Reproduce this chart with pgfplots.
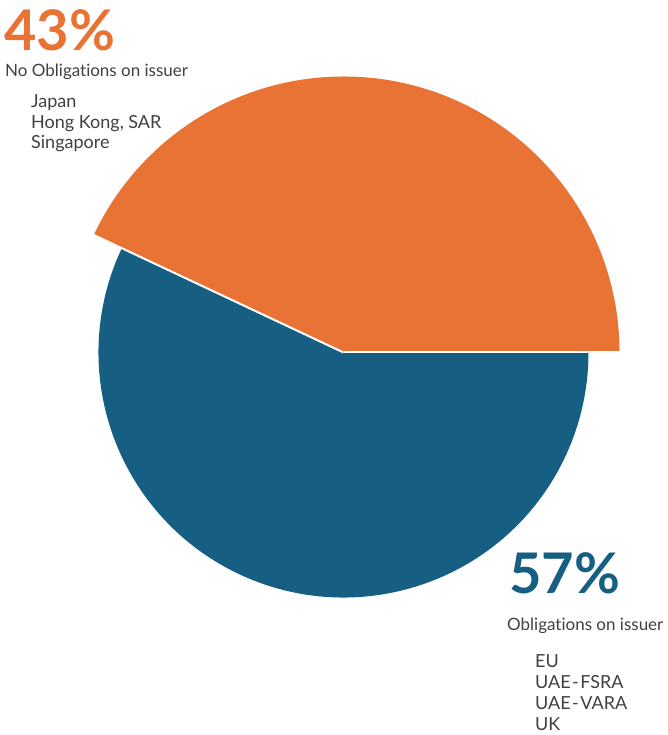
\documentclass[border=0pt]{standalone}
\usepackage{pgfplots}
\usepackage{pgfplotstable}
\usepackage{fontspec}
\setmainfont{Lato}[Ligatures=NoCommon]
\pgfplotsset{compat=1.18}

\definecolor{orng}{HTML}{E97334}
\definecolor{blu}{HTML}{175F82}
\definecolor{txt}{HTML}{404040}

% share (percent) and radius (pt) of each slice
\pgfplotstableread{
share radius
43 276
57 245
}\slices

\tikzset{
  lbl/.style={anchor=base west, inner sep=0, text=txt, font=\fontsize{17}{18}\selectfont},
  itm/.style={lbl, font=\fontsize{18}{20}\selectfont},
  big/.style={anchor=base west, inner sep=0, font=\fontsize{56}{60}\selectfont\bfseries},
}
\newcommand\hy{\kern1.5pt-\kern1.5pt}

\begin{document}
\begin{tikzpicture}
\pgfplotstablegetelem{0}{share}\of\slices \let\sa\pgfplotsretval
\pgfplotstablegetelem{0}{radius}\of\slices \let\ra\pgfplotsretval
\pgfplotstablegetelem{1}{share}\of\slices \let\sb\pgfplotsretval
\pgfplotstablegetelem{1}{radius}\of\slices \let\rb\pgfplotsretval
\pgfmathsetmacro\angA{3.6*\sa}
\pgfmathsetmacro\angB{\angA+3.6*\sb}
\begin{axis}[
    x=1pt, y=1pt,
    xmin=0, xmax=668, ymin=0, ymax=735,
    hide axis, clip=false,
]
\path (axis cs:0,0) rectangle (axis cs:668,735);
% slices
\fill[orng] (axis cs:343.5,382.5) -- ++(0:\ra pt) arc[start angle=0, end angle=\angA, radius=\ra pt] -- cycle;
\fill[blu] (axis cs:343.5,382.5) -- ++(\angA:\rb pt) arc[start angle=\angA, end angle=\angB, radius=\rb pt] -- cycle;
\draw[white, line width=2pt] (axis cs:343.5,382.5) -- ++(0:\ra pt);
\draw[white, line width=2pt] (axis cs:343.5,382.5) -- ++(\angA:\ra pt);

% labels
\node[big, text=orng] at (axis cs:4,684.5) {\sa\%};
\node[lbl] at (axis cs:5,658.3) {No Obligations on issuer};
\node[itm] at (axis cs:31,627.7) {Japan};
\node[itm] at (axis cs:31,606.5) {Hong Kong, SAR};
\node[itm] at (axis cs:31,586) {Singapore};

\node[big, text=blu] at (axis cs:509,141.7) {\sb\%};
\node[lbl] at (axis cs:507,104.3) {Obligations on issuer};
\node[itm] at (axis cs:535,67.7) {EU};
\node[itm] at (axis cs:535,46) {UAE\hy FSRA};
\node[itm] at (axis cs:535,25.3) {UAE\hy VARA};
\node[itm] at (axis cs:535,4.3) {UK};
\end{axis}
\end{tikzpicture}
\end{document}
